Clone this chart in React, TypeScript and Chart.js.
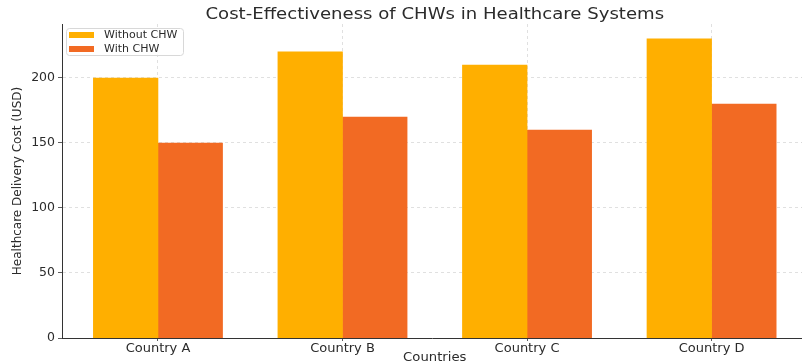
import React, { useEffect, useRef } from "react";
import { Chart, registerables } from "chart.js";

Chart.register(...registerables);

const categories = ["Country A", "Country B", "Country C", "Country D"];
const withoutChw = [200, 220, 210, 230];
const withChw = [150, 170, 160, 180];
const yTicks = [0, 50, 100, 150, 200];
const seriesNames = ["Without CHW", "With CHW"];
const colors = ["#FFAF00", "#F26A23"];

const FONT = "'DejaVu Sans', sans-serif";
const TEXT = "#2b2b2b";

function stretchedText(ctx: any, text: string, x: number, y: number, sx: number) {
  ctx.save();
  ctx.translate(x, y);
  ctx.scale(sx, 1);
  ctx.fillText(text, 0, 0);
  ctx.restore();
}

const overlayPlugin = {
  id: "overlay",
  afterDraw(chart: any) {
    const { ctx, chartArea, scales } = chart;
    const xs = scales.x;
    const cx = xs.getPixelForValue((categories.length - 1) / 2);
    ctx.save();
    // title
    ctx.fillStyle = TEXT;
    ctx.font = `16px ${FONT}`;
    ctx.textAlign = "center";
    ctx.textBaseline = "alphabetic";
    stretchedText(ctx, "Cost-Effectiveness of CHWs in Healthcare Systems", cx, 19, 1.13);
    // x label
    ctx.font = `12px ${FONT}`;
    stretchedText(ctx, "Countries", cx, 361, 1.1);
    // y label
    ctx.save();
    ctx.translate(18, (chartArea.top + chartArea.bottom) / 2);
    ctx.rotate(-Math.PI / 2);
    ctx.textBaseline = "middle";
    ctx.fillText("Healthcare Delivery Cost (USD)", 0, 0);
    ctx.restore();
    // legend
    const lx = chartArea.left + 4;
    const ly = chartArea.top + 4;
    const lw = 117;
    const lh = 27;
    ctx.beginPath();
    ctx.roundRect(lx + 0.5, ly + 0.5, lw, lh, 3);
    ctx.fillStyle = "rgba(255,255,255,0.8)";
    ctx.fill();
    ctx.strokeStyle = "#d8d8d8";
    ctx.lineWidth = 1;
    ctx.stroke();
    ctx.font = `11px ${FONT}`;
    ctx.textAlign = "left";
    ctx.textBaseline = "middle";
    seriesNames.forEach((name, i) => {
      const ry = ly + 4 + i * 14;
      ctx.fillStyle = colors[i];
      ctx.fillRect(lx + 3, ry, 25, 6);
      ctx.fillStyle = TEXT;
      ctx.fillText(name, lx + 38, ry + 3.5);
    });
    ctx.restore();
  },
};

export default function App() {
  const ref = useRef<HTMLCanvasElement | null>(null);
  useEffect(() => {
    document.body.style.margin = "0";
    const half = 0.175;
    const chart = new Chart(ref.current as HTMLCanvasElement, {
      type: "bar",
      data: {
        datasets: [
          {
            label: seriesNames[0],
            data: withoutChw.map((v, i) => ({ x: i - half, y: v })),
            backgroundColor: colors[0],
            grouped: false,
            categoryPercentage: 1,
            barPercentage: 1,
          } as any,
          {
            label: seriesNames[1],
            data: withChw.map((v, i) => ({ x: i + half, y: v })),
            backgroundColor: colors[1],
            grouped: false,
            categoryPercentage: 1,
            barPercentage: 1,
          } as any,
        ],
      },
      options: {
        animation: false,
        responsive: false,
        layout: { padding: { left: 0, right: 0, top: 24, bottom: 0 } },
        plugins: {
          legend: { display: false },
          title: { display: false },
          tooltip: { enabled: false },
        },
        scales: {
          x: {
            type: "linear",
            offset: false,
            min: -0.52,
            max: 3.49,
            afterBuildTicks: (axis: any) => {
              axis.ticks = categories.map((_, i) => ({ value: i }));
            },
            afterFit: (s: any) => {
              s.height = 26;
            },
            ticks: {
              callback: (v: any) => categories[Math.round(Number(v))] ?? "",
              color: TEXT,
              font: { family: FONT, size: 13 },
              padding: 0,
              maxRotation: 0,
              autoSkip: false,
            },
            grid: {
              offset: false,
              color: "#d9d9d9",
              tickColor: "#333",
              tickLength: 3,
              lineWidth: 0.8,
            },
            border: { color: "#333", width: 1, dash: [3, 3] },
          },
          y: {
            min: 0,
            max: 241.5,
            afterBuildTicks: (axis: any) => {
              axis.ticks = yTicks.map((v) => ({ value: v }));
            },
            afterFit: (s: any) => {
              s.width = 62;
            },
            ticks: {
              color: TEXT,
              font: { family: FONT, size: 12.5 },
              padding: 3,
            },
            grid: {
              color: "#d9d9d9",
              tickColor: "#333",
              tickLength: 4,
              lineWidth: 0.8,
            },
            border: { color: "#333", width: 1, dash: [3, 3] },
          },
        },
      },
      plugins: [overlayPlugin],
    });
    return () => chart.destroy();
  }, []);
  return <canvas ref={ref} width={802} height={364} style={{ display: "block" }} />;
}
